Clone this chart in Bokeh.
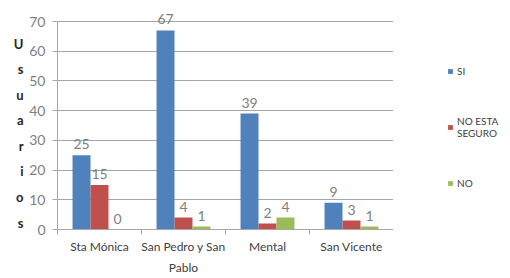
from bokeh.plotting import figure
from bokeh.layouts import row
from bokeh.models import ColumnDataSource, FixedTicker, Legend, LegendItem, LinearAxis
from bokeh.transform import dodge
from bokeh.core.properties import value
from bokeh.embed import file_html
from bokeh.resources import INLINE

categories = ["Sta Mónica", "San Pedro y San\nPablo", "Mental", "San Vicente"]
si = [25, 67, 39, 9]
no_seguro = [15, 4, 2, 3]
no = [0, 1, 4, 1]
series_names = ["SI", "NO ESTA\nSEGURO", "NO"]
series_colors = ["#4F81BD", "#C0504D", "#9BBB59"]
y_ticks = [0, 10, 20, 30, 40, 50, 60, 70]
y_title = "Usuarios"

FONT = "Lato"
xs = [i + 0.5 for i in range(len(categories))]
bounds = [float(i) for i in range(len(categories) + 1)]

p = figure(width=393, height=278, x_range=(0, len(categories)),
           y_range=(0, 73.37), min_border_left=57, min_border_right=0,
           min_border_top=11, min_border_bottom=49,
           output_backend="svg", toolbar_location=None)
p.outline_line_color = None
p.xgrid.grid_line_color = None
p.ygrid.ticker = FixedTicker(ticks=y_ticks)
p.ygrid.grid_line_color = "#a6a6a6"

p.yaxis.axis_label = None
p.yaxis.ticker = FixedTicker(ticks=y_ticks)
p.yaxis.bounds = (0, 70)
p.yaxis.axis_line_color = "#a6a6a6"
p.yaxis.major_tick_line_color = "#a6a6a6"
p.yaxis.major_tick_out = 5
p.yaxis.major_tick_in = 0
p.yaxis.minor_tick_line_color = None
p.yaxis.minor_tick_out = 0
p.yaxis.major_label_text_color = "#7f7f7f"
p.yaxis.major_label_text_font = FONT
p.yaxis.major_label_text_font_size = "14px"
p.yaxis.major_label_standoff = 7

p.xaxis.axis_label = None
p.xaxis.ticker = FixedTicker(ticks=xs, minor_ticks=bounds)
p.xaxis.major_label_overrides = {x: c for x, c in zip(xs, categories)}
p.xaxis.axis_line_color = "#a6a6a6"
p.xaxis.major_tick_line_color = None
p.xaxis.major_tick_out = 0
p.xaxis.major_tick_in = 0
p.xaxis.minor_tick_line_color = "#a6a6a6"
p.xaxis.minor_tick_out = 5
p.xaxis.minor_tick_in = 0
p.xaxis.major_label_text_color = "#404040"
p.xaxis.major_label_text_font = FONT
p.xaxis.major_label_text_font_size = "12px"
p.xaxis.major_label_text_line_height = 1.45
p.xaxis.major_label_standoff = 4

# stacked-letter y title as an extra left axis
letter_top, letter_step = 62.6, 8.61
letter_pos = [round(letter_top - i * letter_step, 2) for i in range(len(y_title))]
title_axis = LinearAxis(ticker=FixedTicker(ticks=letter_pos), axis_label=None,
                        major_label_overrides={t: ch for t, ch in zip(letter_pos, y_title)})
title_axis.axis_line_color = None
title_axis.major_tick_line_color = None
title_axis.major_tick_out = 0
title_axis.minor_tick_line_color = None
title_axis.minor_tick_out = 0
title_axis.major_label_text_font = FONT
title_axis.major_label_text_font_size = "13px"
title_axis.major_label_text_font_style = "bold"
title_axis.major_label_text_color = "#262626"
title_axis.major_label_standoff = 3
p.add_layout(title_axis, "left")

src = ColumnDataSource(dict(x=xs, si=si, ns=no_seguro, no=no,
                            si_t=[str(v) for v in si],
                            ns_t=[str(v) for v in no_seguro],
                            no_t=[str(v) for v in no]))
bw = 0.214
for col, off, color in [("si", -bw, series_colors[0]), ("ns", 0.0, series_colors[1]),
                        ("no", bw, series_colors[2])]:
    p.vbar(x=dodge("x", off, range=p.x_range), top=col, width=bw, source=src,
           fill_color=color, line_color=None)
    p.text(x=dodge("x", off, range=p.x_range), y=col, text=col + "_t", source=src,
           text_align="center", text_baseline="alphabetic", y_offset=-11,
           text_color="#7f7f7f", text_font=value(FONT), text_font_size="14px")

# legend panel (borders match the chart so the row alignment keeps the chart frame)
lg = figure(width=117, height=278, x_range=(0, 1), y_range=(0, 1),
            x_axis_location=None, y_axis_location=None,
            min_border_left=0, min_border_top=11, min_border_right=0, min_border_bottom=49,
            output_backend="svg", toolbar_location=None)
lg.outline_line_color = None
lg.grid.grid_line_color = None
swatches = [lg.vbar(x=[5], top=[1], width=0.1, fill_color=c, line_color=None)
            for c in series_colors]
legend = Legend(items=[LegendItem(label=n, renderers=[r]) for n, r in zip(series_names, swatches)],
                location="top_left")
legend.border_line_color = None
legend.background_fill_alpha = 0
legend.padding = 0
legend.margin = 54
legend.spacing = 38
legend.glyph_width = 6
legend.glyph_height = 6
legend.label_standoff = 4
legend.label_text_font = FONT
legend.label_text_font_size = "10px"
legend.label_text_color = "#404040"
lg.add_layout(legend, "center")

layout = row(p, lg, spacing=0)
open("out.html", "w").write(file_html(layout, INLINE))
